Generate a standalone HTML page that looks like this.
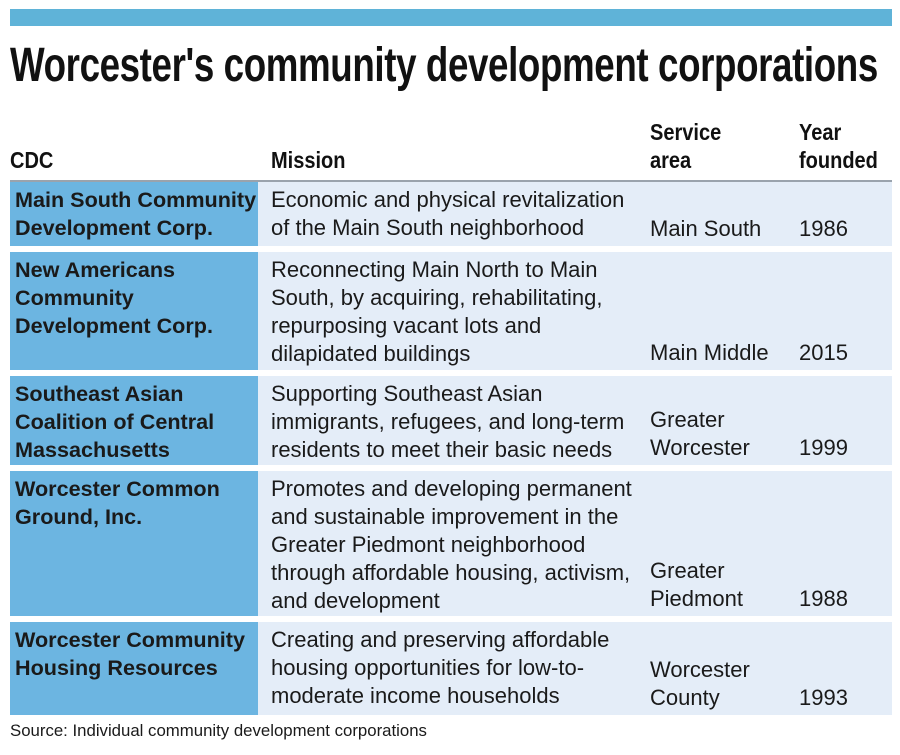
<!DOCTYPE html>
<html><head><meta charset="utf-8"><style>
body{margin:0;width:900px;height:755px;background:#fff;position:relative;overflow:hidden;font-family:"Liberation Sans",sans-serif;color:#1a1a1a}
.bar{position:absolute;left:10px;top:9px;width:882px;height:17px;background:#5fb3d8}
h1{position:absolute;left:10px;top:38px;margin:0;font-family:"Liberation Sans",sans-serif;font-weight:bold;font-size:48px;letter-spacing:-0.5px;white-space:nowrap;color:#111;transform:scaleX(0.765);transform-origin:0 0}
.hd{position:absolute;font-weight:bold;font-size:23px;line-height:28px;color:#111;transform:scaleX(0.87);transform-origin:0 0;white-space:nowrap}
.hl{position:absolute;left:10px;top:180px;width:882px;height:2px;background:#9aa3ad}
.row{position:absolute;left:10px;width:882px;background:#e4edf8}
.row .n{position:absolute;left:0;top:0;bottom:0;width:248px;background:#6cb5e1;font-weight:bold;font-size:21.6px;box-sizing:border-box;padding:4px 0 0 5px;white-space:nowrap}
.row div{font-size:22px;line-height:28px;position:absolute;white-space:nowrap}
.m{left:261px;top:4px}
.s{left:640px;bottom:3px}
.y{left:789px;bottom:3px}
.src{position:absolute;left:10px;top:721px;font-size:16.8px}
</style></head><body>
<div class="bar"></div>
<h1>Worcester's community development corporations</h1>
<div class="hd" style="left:10px;top:146px">CDC</div>
<div class="hd" style="left:271px;top:146px">Mission</div>
<div class="hd" style="left:650px;top:118px">Service<br>area</div>
<div class="hd" style="left:799px;top:118px">Year<br>founded</div>
<div class="hl"></div>

<div class="row" style="top:182px;height:64px">
<div class="n">Main South Community<br>Development Corp.</div>
<div class="m">Economic and physical revitalization<br>of the Main South neighborhood</div>
<div class="s">Main South</div>
<div class="y">1986</div></div>

<div class="row" style="top:252px;height:118px">
<div class="n">New Americans<br>Community<br>Development Corp.</div>
<div class="m">Reconnecting Main North to Main<br>South, by acquiring, rehabilitating,<br>repurposing vacant lots and<br>dilapidated buildings</div>
<div class="s">Main Middle</div>
<div class="y">2015</div></div>

<div class="row" style="top:376px;height:89px">
<div class="n">Southeast Asian<br>Coalition of Central<br>Massachusetts</div>
<div class="m">Supporting Southeast Asian<br>immigrants, refugees, and long-term<br>residents to meet their basic needs</div>
<div class="s">Greater<br>Worcester</div>
<div class="y">1999</div></div>

<div class="row" style="top:471px;height:145px">
<div class="n">Worcester Common<br>Ground, Inc.</div>
<div class="m">Promotes and developing permanent<br>and sustainable improvement in the<br>Greater Piedmont neighborhood<br>through affordable housing, activism,<br>and development</div>
<div class="s">Greater<br>Piedmont</div>
<div class="y">1988</div></div>

<div class="row" style="top:622px;height:93px">
<div class="n">Worcester Community<br>Housing Resources</div>
<div class="m">Creating and preserving affordable<br>housing opportunities for low-to-<br>moderate income households</div>
<div class="s">Worcester<br>County</div>
<div class="y">1993</div></div>

<div class="src">Source: Individual community development corporations</div>
</body></html>
